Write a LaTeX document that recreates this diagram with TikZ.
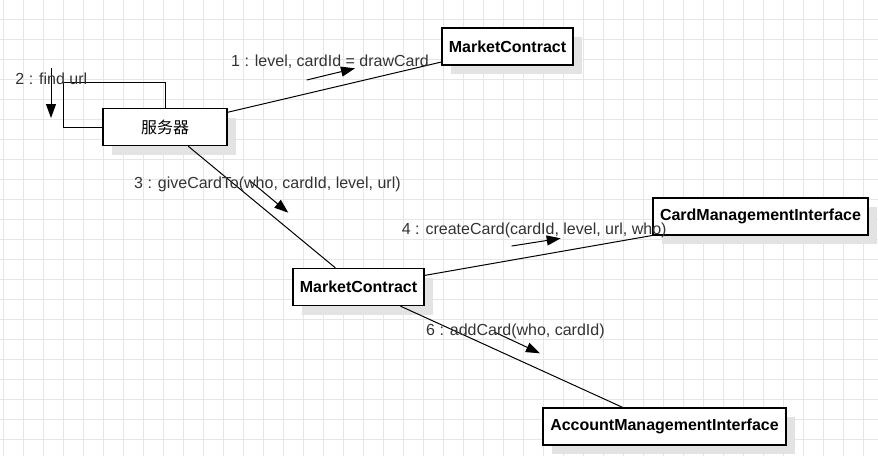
\documentclass[tikz,border=0pt]{standalone}
\usepackage{fontspec}
\setmainfont{Liberation Sans}
\newfontfamily\cjk{Noto Sans CJK SC}
\usepackage{xcolor}
\usetikzlibrary{positioning, arrows.meta, shadows}

\definecolor{gridgray}{HTML}{E6E6E6}
\definecolor{labelgray}{HTML}{333333}

\begin{document}
\begin{tikzpicture}[
    x=1pt, y=-1pt,
    % Object boxes of the collaboration diagram
    object/.style={
        rectangle,
        draw=black,
        line width=1.3pt,
        fill=white,
        font=\fontsize{16}{19}\selectfont\bfseries,
        minimum height=37pt,
        inner sep=0pt,
        drop shadow={shadow xshift=9pt, shadow yshift=-9pt, fill=black!11, opacity=1}
    },
    link/.style={
        draw=black,
        line width=1pt
    },
    msg/.style={
        draw=black,
        line width=1pt,
        -{Triangle[length=14pt, width=10pt]}
    },
    msg_label/.style={
        text=labelgray,
        font=\fontsize{16}{19}\selectfont,
        anchor=base west,
        inner sep=0pt
    }
]

    \useasboundingbox (0,0) rectangle (878,456);

    % --- Background grid ---
    \foreach \x in {3,23,...,863}
        \draw[gridgray, line width=1pt] (\x,0) -- (\x,456);
    \foreach \y in {19,39,...,439}
        \draw[gridgray, line width=1pt] (0,\y) -- (878,\y);

    % --- Objects ---
    \node[object, minimum width=124pt] (server) at (165,127) {\cjk\mdseries 服务器};
    \node[object, minimum width=131pt] (market_top) at (507.5,46.5) {MarketContract};
    \node[object, minimum width=131pt] (market_mid) at (358.5,287) {MarketContract};
    \node[object, minimum width=215pt] (card_mi) at (760.5,216.5) {CardManagementInterface};
    \node[object, minimum width=243pt] (account_mi) at (664.5,426.5) {AccountManagementInterface};

    % --- Links ---
    \coordinate (loop_corner) at (63,82);
    \draw[link] (server.north) |- (loop_corner) |- (server.west);
    \draw[link] (server) -- (market_top);
    \draw[link] (server) -- (market_mid);
    \draw[link] (market_mid) -- (card_mi);
    \draw[link] (market_mid) -- (account_mi);

    % --- Messages ---
    \coordinate (m1_from) at (306.7,80);
    \coordinate (m1_to) at (355,68.3);
    \coordinate (m2_from) at (51,68);
    \coordinate (m2_to) at (51,118);
    \coordinate (m3_from) at (249.8,180.7);
    \coordinate (m3_to) at (288.3,212.7);
    \coordinate (m4_from) at (511.7,246);
    \coordinate (m4_to) at (560.7,238.3);
    \coordinate (m6_from) at (494.7,332.2);
    \coordinate (m6_to) at (540,353.3);

    \draw[msg] (m1_from) -- (m1_to);
    \draw[msg] (m2_from) -- (m2_to);
    \draw[msg] (m3_from) -- (m3_to);
    \draw[msg] (m4_from) -- (m4_to);
    \draw[msg] (m6_from) -- (m6_to);

    \node[msg_label] (l1) at (231,66) {1 : level, cardId = drawCard};
    \node[msg_label] (l2) at (15.3,84.3) {2 : find url};
    \node[msg_label] (l3) at (134,188.3) {3 : giveCardTo(who, cardId, level, url)};
    \node[msg_label] (l4) at (401.7,234.3) {4 : createCard(cardId, level, url, who)};
    \node[msg_label] (l6) at (426,335) {6 : addCard(who, cardId)};

\end{tikzpicture}
\end{document}
